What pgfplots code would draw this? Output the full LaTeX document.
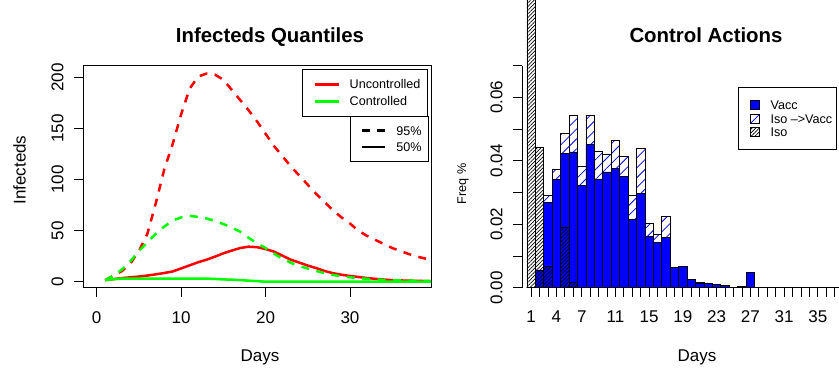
\documentclass[border=0pt]{standalone}
\usepackage{pgfplots}
\pgfplotsset{compat=1.18}
\usepackage{pgfplotstable}
\usepackage{fontspec}
\setmainfont{Liberation Sans}
\usetikzlibrary{patterns.meta}
\definecolor{rred}{RGB}{255,0,0}
\definecolor{rgreen}{RGB}{0,255,0}
\definecolor{rblue}{RGB}{0,0,255}
\newcommand\fs[1]{\fontsize{#1}{#1}\selectfont}

\pgfplotstableread{
day uqn uqm cqn cqm
1 1.5 1.5 1.5 1.5
2 6 2.5 6 2.5
3 10.5 3.5 12 3
4 18 4.3 20 3
5 30 5 30 3
6 47 6 38.5 3
7 77 7.2 47 3
8 110 8.5 54 3
9 135 10 60 3
10 164 13 63 3
11 189 16 64.5 3
12 201 19 63.5 3
13 204 21.5 62 3
14 203 24.5 59.5 2.7
15 198 27.8 56.5 2.2
16 188 30.5 53 2
17 178 33 49 1.5
18 168 34.3 43 1
19 157 33.8 37.5 0.5
20 145 32 33 0
21 133 29.5 27.5 0
22 123 25.5 22.5 0
23 113 21.5 18.5 0
24 104 18.7 15.3 0
25 95 15.8 12.8 0
26 86 13.3 10.5 0
27 78 10.5 8.3 0
28 70 8.3 6.6 0
29 63 6.8 5.3 0
30 57 5.6 4.3 0
31 50 4.6 3.5 0
32 45 3.6 2.8 0
33 41 2.8 2.2 0
34 37 2.1 1.8 0
35 33 1.5 1.5 0
36 30 1.2 1.2 0
37 27 1 1 0
38 24.5 0.8 0.8 0
39 22.5 0.6 0.7 0
40 20 0.5 0.6 0
}\curves

\pgfplotstableread{
day total vacc iso
1 0 0 0.095
2 0.0056 0.0056 0.0443
3 0.0291 0.0269 0.0068
4 0.0374 0.0342 0
5 0.0487 0.0422 0.0191
6 0.0542 0.0428 0.0017
7 0.0383 0.0321 0
8 0.0543 0.0452 0
9 0.0431 0.0343 0
10 0.0420 0.0365 0
11 0.0465 0.0377 0
12 0.0414 0.0352 0
13 0.0291 0.0214 0
14 0.0438 0.0298 0
15 0.0203 0.0161 0
16 0.0168 0.0143 0
17 0.0225 0.0158 0
18 0.0064 0.0064 0
19 0.0068 0.0068 0
20 0.0026 0.0025 0
21 0.0017 0.0015 0
22 0.0014 0.0012 0
23 0.0010 0.0009 0
24 0.0008 0.0007 0
25 0.0002 0.0002 0
26 0.0003 0 0
27 0.0049 0.0048 0
28 0 0 0
29 0 0 0
30 0 0 0
31 0 0 0
32 0 0 0
33 0 0 0
34 0 0 0
35 0 0 0
36 0 0 0
37 0 0 0
38 0 0 0
39 0 0 0
}\bars

\begin{document}
\begin{tikzpicture}[x=1pt,y=1pt]
% ---------------- left panel ----------------
\begin{axis}[
  at={(83.3pt,81.3pt)}, anchor=south west, scale only axis,
  width=347.7pt, height=222.7pt,
  xmin=-1.59, xmax=39.6, ymin=-5.9, ymax=212.4,
  axis line style={line width=0.9pt},
  tick align=outside, major tick length=9.3pt,
  xtick pos=left, ytick pos=left,
  every tick/.style={black, line width=0.9pt},
  xtick={0,10,20,30}, xticklabels={0,10,20,30},
  ytick={0,50,100,150,200}, yticklabels={0,50,100,150,200},
  scaled ticks=false,
  xticklabel style={font=\fs{17}, anchor=base, yshift=-26.3pt},
  yticklabel style={font=\fs{17}, xshift=-10.7pt, anchor=base, rotate=90},
  legend style={at={(axis description cs:0.6299,0.9807)}, anchor=north west,
    draw=black, line width=0.9pt, fill=white, inner xsep=10.7pt, inner ysep=9.2pt,
    row sep=6pt, column sep=9.7pt, font=\fs{12.6},
    nodes={inner sep=0pt, text height=10pt, text depth=1pt, anchor=west}},
  legend image code/.code={\draw[#1] (0pt,0pt) -- (24pt,0pt);},
]
\addplot[rred, line width=2.5pt, dash pattern=on 8pt off 7.5pt, forget plot] table[x=day,y=uqn] {\curves};
\addplot[rred, line width=2.5pt, forget plot] table[x=day,y=uqm] {\curves};
\addplot[rgreen, line width=2.5pt, dash pattern=on 8pt off 7.5pt, forget plot] table[x=day,y=cqn] {\curves};
\addplot[rgreen, line width=2.5pt, forget plot] table[x=day,y=cqm] {\curves};
\addlegendimage{rred, line width=2.5pt}
\addlegendentry{\makebox[66.9pt][l]{Uncontrolled}}
\addlegendimage{rgreen, line width=2.5pt}
\addlegendentry{\makebox[66.9pt][l]{Controlled}}
\end{axis}
% second legend of the left panel
\begin{axis}[
  at={(83.3pt,81.3pt)}, anchor=south west, scale only axis,
  width=347.7pt, height=222.7pt, hide axis,
  xmin=0, xmax=1, ymin=0, ymax=1,
  legend style={at={(axis description cs:0.768,0.7723)}, anchor=north west,
    draw=black, line width=0.9pt, fill=white, inner xsep=9.7pt, inner ysep=9pt,
    row sep=5.3pt, column sep=10pt, font=\fs{12.6},
    nodes={inner sep=0pt, text height=10pt, text depth=1pt, anchor=west}},
  legend image code/.code={\draw[#1] (0pt,0pt) -- (23.3pt,0pt);},
]
\addlegendimage{black, line width=2.5pt, dash pattern=on 8pt off 7.5pt}
\addlegendentry{\makebox[22.3pt][l]{95\%}}
\addlegendimage{black, line width=2.5pt}
\addlegendentry{\makebox[22.3pt][l]{50\%}}
\end{axis}
% ---------------- right panel ----------------
\begin{axis}[
  at={(522.3pt,81.3pt)}, anchor=south west, scale only axis,
  width=316.7pt, height=222pt,
  xmin=-0.05, xmax=37.51, ymin=0, ymax=0.07,
  clip=false,
  axis y line*=left, axis x line*=bottom,
  x axis line style={draw=none},
  y axis line style={line width=0.9pt},
  tick align=outside, major tick length=9.3pt,
  every tick/.style={black, line width=0.9pt},
  xtick={1,2,...,37},
  xticklabels={1,,,4,,,7,,,,11,,,,15,,,,19,,,,23,,,,27,,,,31,,,,35,,},
  ytick={0,0.01,0.02,0.03,0.04,0.05,0.06,0.07},
  yticklabels={0.00,,0.02,,0.04,,0.06,},
  scaled ticks=false,
  xticklabel style={font=\fs{17}, anchor=base, yshift=-25.3pt},
  yticklabel style={font=\fs{17}, xshift=-10.7pt, anchor=base, rotate=90},
  legend style={at={(axis description cs:0.682,0.9027)}, anchor=north west,
    draw=black, line width=0.9pt, fill=white, inner xsep=11pt, inner ysep=12pt,
    row sep=2.3pt, column sep=11pt, font=\fs{12.6},
    nodes={inner sep=0pt, text height=10pt, text depth=1pt, anchor=west}},
  legend image code/.code={\draw[#1] (0pt,-4.5pt) rectangle (9pt,4.5pt);},
]
\addplot[ybar, bar width=1, bar shift=0pt, draw=black, line width=0.8pt, fill=white,
  postaction={pattern={Lines[angle=45,distance=7pt,line width=0.8pt]}, pattern color=rblue},
  forget plot] table[x=day,y=total] {\bars};
\addplot[ybar, bar width=1, bar shift=0pt, draw=black, line width=0.8pt, fill=rblue,
  forget plot] table[x=day,y=vacc] {\bars};
\addplot[ybar, bar width=1, bar shift=0pt, draw=black, line width=0.8pt,
  pattern={Lines[angle=45,distance=2.6pt,line width=0.7pt]}, pattern color=black,
  forget plot] table[x=day,y=iso] {\bars};
\addlegendimage{draw=black, line width=0.8pt, fill=rblue}
\addlegendentry{\makebox[55pt][l]{Vacc}}
\addlegendimage{draw=black, line width=0.8pt, fill=white,
  postaction={pattern={Lines[angle=45,distance=7pt,line width=0.8pt]}, pattern color=rblue}}
\addlegendentry{\makebox[55pt][l]{Iso --{}>Vacc}}
\addlegendimage{draw=black, line width=0.8pt,
  pattern={Lines[angle=45,distance=2.6pt,line width=0.7pt]}, pattern color=black}
\addlegendentry{\makebox[55pt][l]{Iso}}
\end{axis}
% ---------------- titles and axis labels ----------------
\node[font=\bfseries\fs{20.4}, anchor=base] at (270,326.3) {Infecteds Quantiles};
\node[font=\bfseries\fs{20.4}, anchor=base] at (706,326.3) {Control Actions};
\node[font=\fs{17}, anchor=base] at (260,7.5) {Days};
\node[font=\fs{17}, anchor=base] at (697,7.5) {Days};
\node[font=\fs{17}, anchor=base, rotate=90] at (25.5,199) {Infecteds};
\node[font=\fs{12.6}, anchor=base, rotate=90] at (466,185) {Freq \%};
\pgfresetboundingbox
\useasboundingbox (0,0) rectangle (839,369);
\end{tikzpicture}
\end{document}
